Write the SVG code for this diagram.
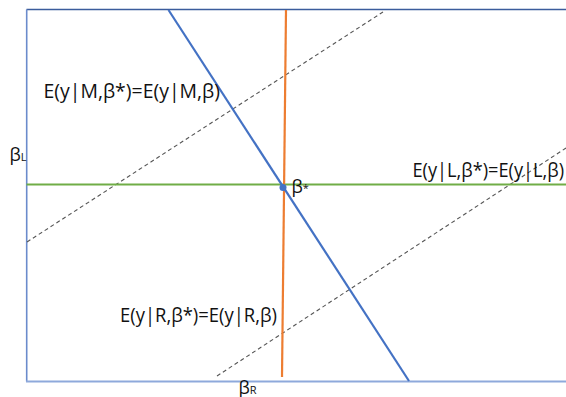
<svg xmlns="http://www.w3.org/2000/svg" width="566" height="397" viewBox="0 0 566 397">
<style>
.lbl{font-family:"Open Sans","Liberation Sans",sans-serif;font-size:19.5px;fill:#111}
.ax{font-family:"Open Sans","Liberation Sans",sans-serif;font-size:18px;fill:#111}
.sub{font-size:11px}
.dash{stroke:#555;stroke-width:1.1;stroke-dasharray:4 3;fill:none}
</style>
<rect width="566" height="397" fill="#fff"/>
<g id="frame">
<line x1="26.5" y1="9.5" x2="566" y2="9.5" stroke="#3b5c9c" stroke-width="1.6"/>
<line x1="26.7" y1="9.5" x2="26.7" y2="381.5" stroke="#6b8bcc" stroke-width="1.6"/>
<line x1="26" y1="381.5" x2="566" y2="381.5" stroke="#8ea9db" stroke-width="2"/>
</g>
<g id="connectors">
<line class="dash" x1="27" y1="242" x2="383" y2="12"/>
<line class="dash" x1="217" y1="376" x2="566" y2="148"/>
<line x1="26.5" y1="184.5" x2="566" y2="184.5" stroke="#70ad47" stroke-width="2"/>
<line x1="286" y1="10" x2="282" y2="377" stroke="#ed7d31" stroke-width="2.2"/>
<line x1="168.5" y1="10" x2="409" y2="381" stroke="#4472c4" stroke-width="2.2"/>
</g>
<g id="beta-star">
<circle cx="283" cy="187.5" r="3.5" fill="#4472c4"/>
<text class="ax" x="291.5" y="193">β<tspan class="sub" dy="-1">*</tspan></text>
</g>
<g id="label-M"><text class="lbl" x="43.5" y="97.5" textLength="176.5" lengthAdjust="spacingAndGlyphs">E(y|M,β*)=E(y|M,β)</text></g>
<g id="label-L"><text class="lbl" x="412.5" y="176.7" textLength="151.5" lengthAdjust="spacingAndGlyphs">E(y|L,β*)=E(y|L,β)</text></g>
<g id="label-R"><text class="lbl" x="120" y="322.3" textLength="157" lengthAdjust="spacingAndGlyphs">E(y|R,β*)=E(y|R,β)</text></g>
<g id="axis-L"><text class="ax" x="9.5" y="161">β<tspan class="sub">L</tspan></text></g>
<g id="axis-R"><text class="ax" x="238.5" y="394">β<tspan class="sub">R</tspan></text></g>
</svg>
